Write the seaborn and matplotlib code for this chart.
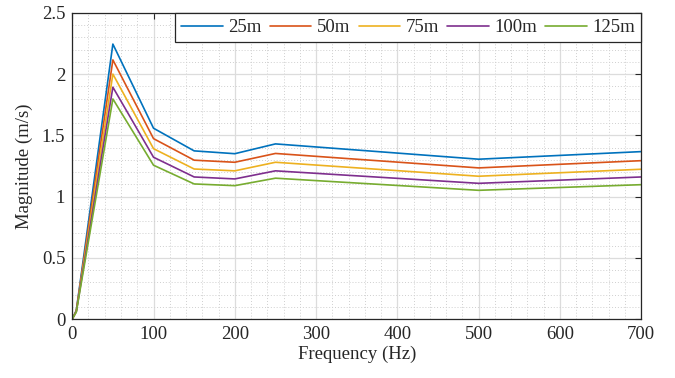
import numpy as np
import pandas as pd
import matplotlib
matplotlib.use("Agg")
import matplotlib.pyplot as plt
import seaborn as sns
from matplotlib.ticker import MultipleLocator, FuncFormatter

# Frequency points (Hz)
freq = [0, 5, 50, 100, 150, 200, 250, 500, 700]

# Velocity magnitude (m/s) at each distance
mag_25 = [0.0, 0.07, 2.245, 1.558, 1.373, 1.350, 1.430, 1.305, 1.367]
mag_50 = [0.0, 0.066, 2.116, 1.473, 1.297, 1.280, 1.352, 1.234, 1.293]
mag_75 = [0.0, 0.063, 2.000, 1.391, 1.225, 1.210, 1.280, 1.166, 1.223]
mag_100 = [0.0, 0.06, 1.893, 1.321, 1.160, 1.144, 1.210, 1.108, 1.160]
mag_125 = [0.0, 0.057, 1.797, 1.256, 1.103, 1.089, 1.150, 1.051, 1.097]

labels = ["25m", "50m", "75m", "100m", "125m"]
series = [mag_25, mag_50, mag_75, mag_100, mag_125]
colors = ["#0072BD", "#D95319", "#EDB120", "#7E2F8E", "#77AC30"]

df = pd.concat(
    [pd.DataFrame({"Frequency": freq, "Magnitude": s, "Distance": lab})
     for lab, s in zip(labels, series)],
    ignore_index=True,
)

sns.set_theme(style="white")
plt.rcParams["font.family"] = ["Liberation Serif", "DejaVu Serif"]

fig, ax = plt.subplots(figsize=(6.75, 3.78), dpi=100)
fig.subplots_adjust(left=0.107, right=0.950, top=0.966, bottom=0.156)

sns.lineplot(data=df, x="Frequency", y="Magnitude", hue="Distance",
             palette=dict(zip(labels, colors)), linewidth=1.2, ax=ax,
             estimator=None, sort=False)

ax.set_xlim(0, 700)
ax.set_ylim(0, 2.5)
ax.xaxis.set_major_locator(MultipleLocator(100))
ax.xaxis.set_minor_locator(MultipleLocator(20))
ax.yaxis.set_major_locator(MultipleLocator(0.5))
ax.yaxis.set_minor_locator(MultipleLocator(0.1))
ax.yaxis.set_major_formatter(FuncFormatter(lambda v, p: f"{v:g}"))

ax.grid(which="major", color="#dcdcdc", linewidth=0.9, linestyle="-")
ax.grid(which="minor", color="#cfcfcf", linewidth=0.7, linestyle=(0, (1, 2)))
ax.set_axisbelow(True)

for sp in ax.spines.values():
    sp.set_color("#262626")
    sp.set_linewidth(0.9)

ax.tick_params(which="major", direction="in", length=4, width=0.8,
               top=True, right=True, labelsize=13.5, colors="#262626",
               labelcolor="#262626", pad=5)
ax.tick_params(which="minor", length=0, top=False, right=False)

ax.set_xlabel("Frequency (Hz)", fontsize=13.5, color="#262626", labelpad=2)
ax.set_ylabel("Magnitude (m/s)", fontsize=13.5, color="#262626", labelpad=6)

leg = ax.legend(loc="upper right", ncol=5, fontsize=13.5, frameon=True,
                fancybox=False, borderaxespad=0.0, handlelength=2.2,
                handletextpad=0.3, columnspacing=0.45, borderpad=0.33)
leg.get_frame().set_edgecolor("#262626")
leg.get_frame().set_linewidth(0.9)
leg.get_frame().set_alpha(1.0)

fig.savefig("out.png", dpi=100)
